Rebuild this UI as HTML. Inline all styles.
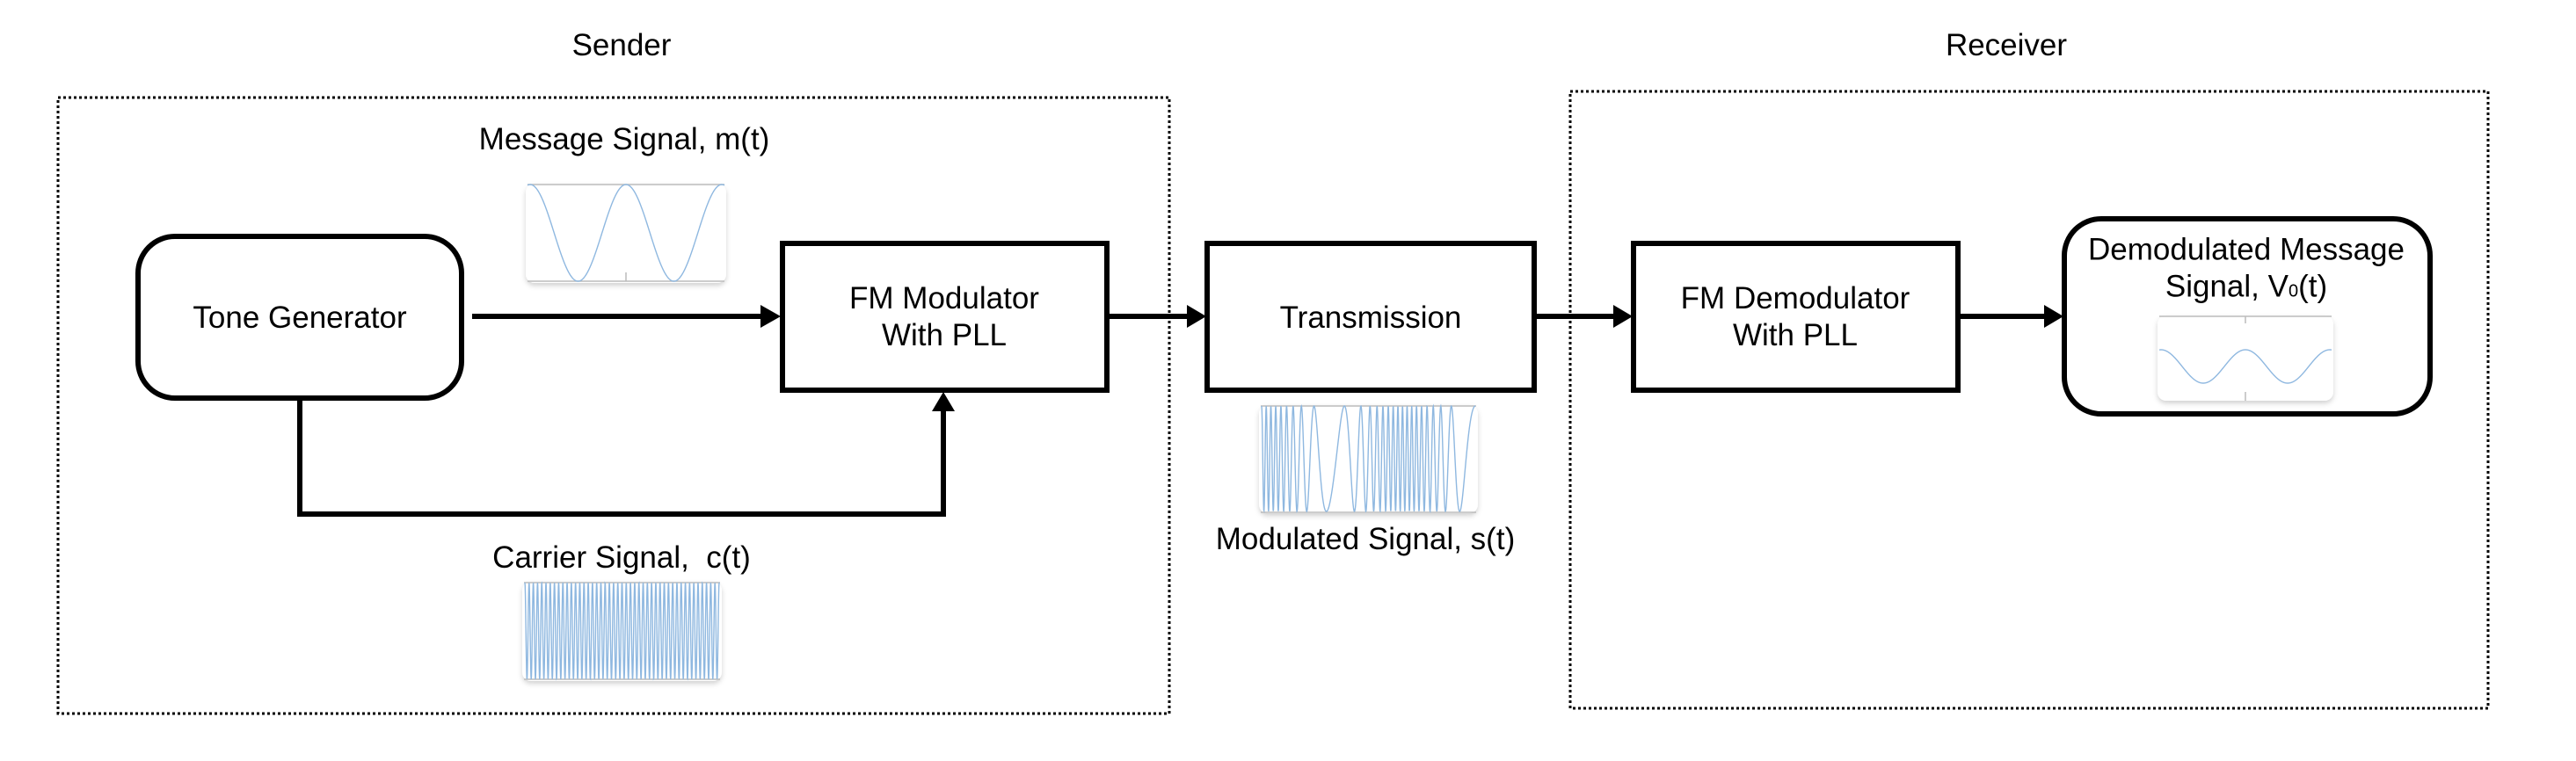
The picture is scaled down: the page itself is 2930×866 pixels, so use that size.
<!DOCTYPE html>
<html><head><meta charset="utf-8">
<style>
html,body{margin:0;padding:0;background:#fff;}
body{width:2930px;height:866px;position:relative;overflow:hidden;font-family:"Liberation Sans",sans-serif;color:#000;}
.t{position:absolute;font-size:35px;white-space:nowrap;transform:translate(-50%,-50%);text-align:center;line-height:42px;}
</style></head><body>
<svg width="2930" height="866" style="position:absolute;left:0;top:0">
<defs>
<filter id="sh" x="-10%" y="-10%" width="120%" height="130%"><feDropShadow dx="0" dy="3" stdDeviation="3" flood-color="#000" flood-opacity="0.18"/></filter>
</defs>
<rect x="66" y="111" width="1264" height="701" fill="none" stroke="#000" stroke-width="3" stroke-dasharray="3,3"/>
<rect x="1786" y="104" width="1044" height="702" fill="none" stroke="#000" stroke-width="3" stroke-dasharray="3,3"/>
<rect x="157" y="269" width="368" height="184" rx="42" fill="#fff" stroke="#000" stroke-width="6"/>
<rect x="890" y="277" width="369" height="167" fill="#fff" stroke="#000" stroke-width="6"/>
<rect x="1373" y="277" width="372" height="167" fill="#fff" stroke="#000" stroke-width="6"/>
<rect x="1858" y="277" width="369" height="167" fill="#fff" stroke="#000" stroke-width="6"/>
<rect x="2348" y="249" width="416" height="222" rx="42" fill="#fff" stroke="#000" stroke-width="6"/>
<g stroke="#000" stroke-width="6" fill="none">
<line x1="537" y1="360" x2="870" y2="360"/>
<line x1="1259" y1="360" x2="1354" y2="360"/>
<line x1="1745" y1="360" x2="1839" y2="360"/>
<line x1="2227" y1="360" x2="2329" y2="360"/>
<polyline points="341,453 341,585 1073,585 1073,465"/>
</g>
<g fill="#000">
<polygon points="888,360 865,347 865,373"/>
<polygon points="1372,360 1350,347 1350,373"/>
<polygon points="1857,360 1835,347 1835,373"/>
<polygon points="2347,360 2325,347 2325,373"/>
<polygon points="1073,446 1060,468 1086,468"/>
</g>
<g filter="url(#sh)" fill="#fff">
<rect x="598" y="209" width="228" height="113" rx="10"/>
<rect x="594" y="662" width="227" height="113" rx="10"/>
<rect x="1432" y="461" width="249" height="123" rx="10"/>
<rect x="2454" y="359" width="200" height="97" rx="10"/>
</g>
<g stroke="#bbb" stroke-width="1.5">
<line x1="600" y1="210" x2="824" y2="210"/><line x1="600" y1="320" x2="824" y2="320"/><line x1="712" y1="310" x2="712" y2="320"/>
<line x1="596" y1="663" x2="819" y2="663"/><line x1="596" y1="773" x2="819" y2="773"/>
<line x1="1434" y1="462" x2="1679" y2="462"/><line x1="1434" y1="583" x2="1679" y2="583"/>
<line x1="2456" y1="360" x2="2652" y2="360"/><line x1="2554" y1="360" x2="2554" y2="368"/><line x1="2554" y1="446" x2="2554" y2="456"/>
</g>
<g id="waves" fill="none" stroke="#8fb8e0" stroke-width="1.4"></g>
</svg>
<div class="t" style="left:707px;top:52px">Sender</div>
<div class="t" style="left:2282px;top:52px">Receiver</div>
<div class="t" style="left:710px;top:159px">Message Signal, m(t)</div>
<div class="t" style="left:707px;top:635px">Carrier Signal,&nbsp; c(t)</div>
<div class="t" style="left:1553px;top:614px">Modulated Signal, s(t)</div>
<div class="t" style="left:341px;top:362px">Tone Generator</div>
<div class="t" style="left:1074px;top:361px">FM Modulator<br>With PLL</div>
<div class="t" style="left:1559px;top:362px">Transmission</div>
<div class="t" style="left:2042px;top:361px">FM Demodulator<br>With PLL</div>
<div class="t" style="left:2555px;top:308px">Demodulated Message<br>Signal, V<span style="font-size:20px">0</span>(t)</div>
<script>
function wave(x0,x1,yc,amp,phaseFn){var d="",n=800;for(var i=0;i<=n;i++){var x=x0+(x1-x0)*i/n;var y=yc-amp*Math.cos(phaseFn(i/n));d+=(i?"L":"M")+x.toFixed(2)+","+y.toFixed(2);}return d;}
var g=document.getElementById("waves");
function add(d){var p=document.createElementNS("http://www.w3.org/2000/svg","path");p.setAttribute("d",d);g.appendChild(p);}
add(wave(600,824,265,55,function(t){var x=600+224*t;return 2*Math.PI*(x-712)/109;}));
add(wave(597,818,718,55,function(t){return 2*Math.PI*46*t;}));
add(wave(1435,1678,522,60,function(t){return 2*Math.PI*(26*t+2.2*Math.sin(2*Math.PI*1.5*t));}));
add(wave(2456,2652,417,19,function(t){var x=2456+196*t;return 2*Math.PI*(x-2554)/96;}));
</script>
</body></html>
